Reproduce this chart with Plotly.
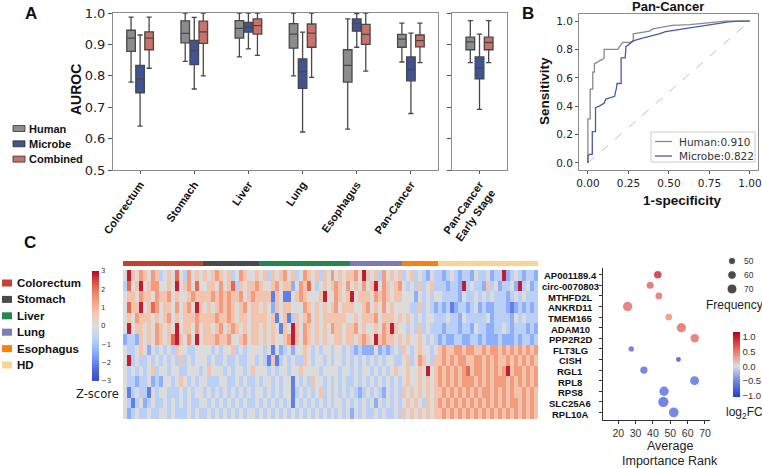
import plotly.graph_objects as go

W, H = 762, 468
def fx(p): return p / W
def fy(p): return 1 - p / H

FONT = "Liberation Sans, Arial, sans-serif"
MPL = "DejaVu Sans, sans-serif"

# ---------------- Panel A data ----------------
cancer_types = ["Colorectum", "Stomach", "Liver", "Lung", "Esophagus", "Pan-Cancer"]
early_label = ["Pan-Cancer<br>Early Stage"]
series_names = ["Human", "Microbe", "Combined"]
series_fill = ["#8c8c8c", "#3f5395", "#c9726c"]

human_low = [0.78, 0.846, 0.86, 0.80, 0.63, 0.844, 0.842]
human_q1 = [0.878, 0.905, 0.92, 0.888, 0.78, 0.891, 0.883]
human_med = [0.92, 0.935, 0.951, 0.933, 0.833, 0.917, 0.908]
human_q3 = [0.945, 0.975, 0.976, 0.966, 0.883, 0.932, 0.923]
human_high = [0.987, 1.0, 1.0, 1.0, 0.981, 0.968, 0.976]
microbe_low = [0.64, 0.758, 0.886, 0.621, 0.891, 0.68, 0.693]
microbe_q1 = [0.746, 0.836, 0.939, 0.76, 0.942, 0.784, 0.79]
microbe_med = [0.79, 0.88, 0.955, 0.813, 0.966, 0.82, 0.825]
microbe_q3 = [0.833, 0.913, 0.97, 0.854, 0.981, 0.86, 0.86]
microbe_high = [0.93, 0.986, 1.0, 0.939, 0.998, 0.936, 0.933]
combined_low = [0.824, 0.80, 0.865, 0.795, 0.815, 0.842, 0.842]
combined_q1 = [0.883, 0.903, 0.933, 0.891, 0.90, 0.892, 0.883]
combined_med = [0.92, 0.94, 0.96, 0.936, 0.932, 0.912, 0.906]
combined_q3 = [0.94, 0.974, 0.981, 0.965, 0.964, 0.93, 0.923]
combined_high = [0.987, 1.0, 1.0, 1.0, 1.0, 0.968, 0.976]

# ---------------- Panel B data ----------------
human_fpr = [0, 0, 0.014, 0.014, 0.03, 0.03, 0.04, 0.04, 0.06, 0.07, 0.09, 0.10, 0.10, 0.185, 0.195,
             0.215, 0.26, 0.28, 0.28, 0.32, 0.38, 0.40, 0.47, 0.52, 0.63, 0.73, 0.83, 0.85, 1.0]
human_tpr = [0, 0.31, 0.31, 0.52, 0.52, 0.64, 0.64, 0.70, 0.71, 0.72, 0.73, 0.74, 0.80, 0.80, 0.82,
             0.85, 0.85, 0.86, 0.91, 0.92, 0.93, 0.945, 0.96, 0.97, 0.975, 0.985, 0.995, 1.0, 1.0]
microbe_fpr = [0, 0, 0.01, 0.027, 0.027, 0.04, 0.047, 0.047, 0.07, 0.10, 0.11, 0.14, 0.165, 0.17, 0.175,
               0.18, 0.205, 0.205, 0.23, 0.235, 0.255, 0.28, 0.32, 0.38, 0.44, 0.48, 0.56, 0.65, 0.73,
               0.81, 0.87, 0.93, 1.0]
microbe_tpr = [0, 0.05, 0.06, 0.06, 0.22, 0.22, 0.22, 0.39, 0.40, 0.42, 0.45, 0.46, 0.47, 0.50, 0.52,
               0.56, 0.56, 0.74, 0.74, 0.82, 0.84, 0.86, 0.875, 0.89, 0.91, 0.925, 0.94, 0.955, 0.97,
               0.985, 0.995, 1.0, 1.0]
roc_labels = ["Human:0.910", "Microbe:0.822"]
roc_colors = ["#8a8a8a", "#4a5ba6"]

# ---------------- Panel C data ----------------
genes = ["AP001189.4", "circ-0070803", "MTHFD2L", "ANKRD11", "TMEM165", "ADAM10", "PPP2R2D",
         "FLT3LG", "CISH", "RGL1", "RPL8", "RPS8", "SLC25A6", "RPL10A"]
group_names = ["Colorectum", "Stomach", "Liver", "Lung", "Esophagus", "HD"]
group_colors = ["#c4432f", "#4a4a4a", "#24874f", "#7d7ab8", "#f98012", "#fad590"]

# z-score levels per sample, coded 0..8 (0 = -2.8 ... 4 = 0 ... 8 = +2.8), grouped by cohort
heat_rows = [
    ["48546 54653 45474 36454", "54565 45346 5445", "45354 56453 46545 35464 545", "56485 45364 545", "34534 3243", "32343 23324 33423 38234 32332"],
    ["37458 45664 45484 56474", "45546 45735 4556", "54456 45524 65743 45456 546", "45464 58465 456", "43435 3453", "33233 28343 32534 23342 83423"],
    ["45546 55465 56454 45655", "55656 56556 4565", "55515 41145 65444 58446 545", "84555 46565 455", "44424 3434", "43333 24334 34343 33234 34333"],
    ["47558 45764 55464 56485", "45456 56545 6455", "45425 45544 46545 45456 455", "54456 45464 544", "44335 3432", "32312 33234 23223 33212 32323"],
    ["45465 55454 56454 55565", "55565 56545 5455", "55451 45135 45645 45555 554", "45455 56455 545", "45434 3443", "33433 24333 33423 33324 34333"],
    ["48455 45465 45484 55464", "55456 45654 5455", "45454 15485 46545 45465 545", "56454 45465 854", "43435 3433", "32333 23324 33223 34323 33232"],
    ["23325 45465 45785 46484", "55565 56445 6455", "45454 45685 46545 45445 545", "54565 48565 545", "45445 4343", "23223 32233 23222 32223 23323"],
    ["43345 42434 34354 43344", "44343 44534 3444", "43414 23424 45434 34434 434", "32322 24232 343", "54345 4434", "56556 65665 56566 56565 65656"],
    ["48343 34343 43435 34344", "43433 43343 3443", "43151 34343 35434 43434 434", "34343 43434 433", "45346 5435", "56565 66556 65656 55656 56565"],
    ["43434 34534 43443 34443", "45444 34344 3454", "44343 44344 54444 34444 344", "34344 34343 454", "45445 4845", "65656 56756 65656 56856 65656"],
    ["43323 34232 44345 43434", "43334 43343 4334", "34434 34414 34354 43434 343", "34343 43434 343", "45445 4545", "65656 56665 65656 66565 65656"],
    ["41343 31434 43334 34344", "34343 43434 3434", "43434 34413 43434 53434 343", "43234 34324 343", "54545 4545", "56565 65656 56656 56565 56565"],
    ["43134 23433 43434 34334", "43434 34343 4334", "34343 43414 34343 43434 434", "34343 42434 343", "45454 3545", "65656 56565 65656 56566 56565"],
    ["42343 34334 43433 34343", "34343 43434 3443", "43434 34343 43434 34343 434", "24343 34343 343", "54545 4545", "56565 65656 56565 65656 56565"],
]
level_value = {"0": -2.8, "1": -2.1, "2": -1.4, "3": -0.7, "4": 0.0, "5": 0.7, "6": 1.4, "7": 2.1, "8": 2.8}

avg_rank = [42.8, 38.4, 43.4, 25.4, 49.1, 56.4, 64.1, 27.5, 54.7, 34.8, 64.0, 46.4, 46.0, 52.0]
frequency = [52, 48, 46, 65, 46, 65, 58, 36, 32, 50, 62, 65, 72, 68]
log2fc = [1.1, 0.75, 0.7, 0.7, 0.5, 0.7, 0.7, -0.9, -1.05, -0.9, -0.85, -0.85, -0.9, -0.85]
freq_legend = [50, 60, 70]

# ---------------- derived ----------------
group_counts = [len(g.replace(" ", "")) for g in heat_rows[0]]
z = []
for row in heat_rows:
    codes = "".join(g.replace(" ", "") for g in row)
    z.append([level_value[c] for c in codes])
ncol = len(z[0])
group_index = []
for gi, n in enumerate(group_counts):
    group_index += [gi] * n

def freq_size(f):
    return 7.3 + 0.135 * (f - 50)

fig = go.Figure()

# ---------------- Panel A traces ----------------
stats = {
    "Human": (human_low, human_q1, human_med, human_q3, human_high),
    "Microbe": (microbe_low, microbe_q1, microbe_med, microbe_q3, microbe_high),
    "Combined": (combined_low, combined_q1, combined_med, combined_q3, combined_high),
}
n_main = len(cancer_types)
for name, color in zip(series_names, series_fill):
    lo, q1, med, q3, hi = stats[name]
    common = dict(name=name, fillcolor=color, line=dict(color="#484848", width=1.3),
                  whiskerwidth=0.6, showlegend=False, offsetgroup=name, hoverinfo="skip",
                  boxpoints=False)
    fig.add_trace(go.Box(x=cancer_types, lowerfence=lo[:n_main], q1=q1[:n_main], median=med[:n_main],
                         q3=q3[:n_main], upperfence=hi[:n_main], xaxis="x", yaxis="y", **common))
    fig.add_trace(go.Box(x=early_label, lowerfence=lo[n_main:], q1=q1[n_main:], median=med[n_main:],
                         q3=q3[n_main:], upperfence=hi[n_main:], xaxis="x2", yaxis="y2", **common))

# ---------------- Panel B traces ----------------
fig.add_trace(go.Scatter(x=[0, 1], y=[0, 1], mode="lines", xaxis="x3", yaxis="y3", showlegend=False,
                         line=dict(color="#b0b0b0", width=0.8, dash="dash"), hoverinfo="skip"))
for fpr, tpr, col in [(human_fpr, human_tpr, roc_colors[0]), (microbe_fpr, microbe_tpr, roc_colors[1])]:
    fig.add_trace(go.Scatter(x=fpr, y=tpr, mode="lines", xaxis="x3", yaxis="y3", showlegend=False,
                             line=dict(color=col, width=1.3)))

# ---------------- Panel C traces ----------------
heat_scale = [[0.0, "#3b4cc0"], [0.1, "#4f69d9"], [0.2, "#7396f5"], [0.3, "#9abbff"], [0.4, "#c0d4f5"],
              [0.5, "#dddcdc"], [0.6, "#f2cbb7"], [0.7, "#f7a889"], [0.8, "#ee8468"], [0.9, "#d65244"],
              [1.0, "#b40426"]]
fig.add_trace(go.Heatmap(z=z, x=list(range(ncol)), y=list(range(len(genes))), xaxis="x4", yaxis="y4",
                         colorscale=heat_scale, zmin=-3, zmax=3, hoverinfo="skip",
                         colorbar=dict(x=fx(92), xanchor="left", xpad=0, y=fy(326), yanchor="middle", ypad=0,
                                       len=110, lenmode="pixels", thickness=7, outlinewidth=0,
                                       tickvals=[-3, -2, -1, 0, 1, 2, 3], ticks="",
                                       tickfont=dict(size=7, family=MPL, color="#333"))))
nG = len(group_colors)
bar_scale = [[i / (nG - 1), c] for i, c in enumerate(group_colors)]
fig.add_trace(go.Heatmap(z=[group_index], x=list(range(ncol)), y=[0], xaxis="x4", yaxis="y5",
                         colorscale=bar_scale, zmin=0, zmax=nG - 1, showscale=False, hoverinfo="skip"))

dot_scale = [[0.0, "#2238c8"], [0.0225, "#2a44d4"], [0.248, "#7088e8"], [0.473, "#dcdce6"],
             [0.698, "#ee7a62"], [0.923, "#cc1a2a"], [1.0, "#b0001a"]]
fig.add_trace(go.Scatter(x=avg_rank, y=list(range(len(genes))), mode="markers", xaxis="x6", yaxis="y6",
                         showlegend=False, hoverinfo="skip",
                         marker=dict(size=[freq_size(f) for f in frequency], color=log2fc,
                                     colorscale=dot_scale, cmin=-1.05, cmax=1.17, line=dict(width=0),
                                     colorbar=dict(x=fx(733), xanchor="left", xpad=0, y=fy(364.5),
                                                   yanchor="middle", ypad=0, len=65, lenmode="pixels",
                                                   thickness=7, outlinewidth=0, ticks="",
                                                   tickvals=[-1, -0.5, 0, 0.5, 1],
                                                   ticktext=["\u22121.0", "\u22120.5", "0.0", "0.5", "1.0"],
                                                   tickfont=dict(size=9.5, family=FONT, color="#333")))))
fig.add_trace(go.Scatter(x=[0.5] * len(freq_legend), y=list(range(len(freq_legend))), mode="markers",
                         xaxis="x7", yaxis="y7", showlegend=False, hoverinfo="skip",
                         marker=dict(size=[freq_size(f) for f in freq_legend], color="#000000")))

# ---------------- layout ----------------
frame = dict(showline=True, mirror=True, linecolor="#8c8c8c", linewidth=1, showgrid=False, zeroline=False)
ytick_common = dict(ticks="outside", ticklen=4, tickcolor="#555")
fig.update_layout(
    width=W, height=H, autosize=False, margin=dict(l=0, r=0, t=0, b=0, pad=0, autoexpand=False),
    paper_bgcolor="white", plot_bgcolor="white",
    boxmode="group", boxgap=0.5, boxgroupgap=0.05,
    xaxis=dict(domain=[fx(113), fx(438)], anchor="y", **frame, ticks="outside", ticklen=3, tickcolor="#555",
               tickangle=-55, automargin=False,
               tickfont=dict(family=FONT, size=11, color="#111", weight="bold")),
    yaxis=dict(domain=[fy(170), fy(13)], anchor="x", range=[0.5, 1.0], dtick=0.1, tickformat=".1f",
               automargin=False, **frame, **ytick_common, tickfont=dict(family=MPL, size=13, color="#222")),
    xaxis2=dict(domain=[fx(452), fx(507)], anchor="y2", **frame, ticks="outside", ticklen=3, tickcolor="#555",
                tickangle=-55, automargin=False,
                tickfont=dict(family=FONT, size=11, color="#111", weight="bold")),
    yaxis2=dict(domain=[fy(170), fy(13)], anchor="x2", range=[0.5, 1.0], dtick=0.1, showticklabels=False,
                automargin=False, **frame, **ytick_common),
    xaxis3=dict(domain=[fx(579), fx(758)], anchor="y3", range=[-0.055, 1.05], tickvals=[0, 0.25, 0.5, 0.75, 1.0],
                tickformat=".2f", automargin=False, **frame, ticks="outside", ticklen=3, tickcolor="#555",
                tickfont=dict(family=MPL, size=10.5, color="#222")),
    yaxis3=dict(domain=[fy(170), fy(14)], anchor="x3", range=[-0.05, 1.05], dtick=0.2, tickformat=".1f",
                automargin=False, **frame, ticks="outside", ticklen=3, tickcolor="#555",
                tickfont=dict(family=MPL, size=10.5, color="#222")),
    xaxis4=dict(domain=[fx(123), fx(538)], anchor="y4", range=[-0.5, ncol - 0.5], visible=False),
    yaxis4=dict(domain=[fy(419), fy(270)], anchor="x4", range=[len(genes) - 0.5, -0.5], visible=False),
    yaxis5=dict(domain=[fy(266), fy(261)], anchor="x4", range=[-0.5, 0.5], visible=False),
    xaxis6=dict(domain=[fx(603), fx(710)], anchor="y6", range=[11.2, 72.9], tickvals=[20, 30, 40, 50, 60, 70],
                showline=True, linecolor="#333", linewidth=1, showgrid=False, zeroline=False, automargin=False,
                ticks="outside", ticklen=3, tickcolor="#333", tickfont=dict(family=FONT, size=10.5, color="#333")),
    yaxis6=dict(domain=[fy(420), fy(268)], anchor="x6", range=[13.71, -0.63], tickvals=list(range(len(genes))),
                showticklabels=False, showline=True, linecolor="#333", linewidth=1, showgrid=False,
                zeroline=False, ticks="outside", ticklen=3, tickcolor="#333", automargin=False),
    xaxis7=dict(domain=[fx(726), fx(738)], anchor="y7", range=[0, 1], visible=False),
    yaxis7=dict(domain=[fy(295), fy(255)], anchor="x7", range=[2.43, -0.43], visible=False),
)

annotations = []
shapes = []
def ann(text, x, y, size, family=FONT, color="#111", xanchor="center", yanchor="middle", angle=0, bold=False):
    annotations.append(dict(text=text, x=fx(x), y=fy(y), xref="paper", yref="paper", showarrow=False,
                            xanchor=xanchor, yanchor=yanchor, textangle=angle,
                            font=dict(family=family, size=size, color=color,
                                      weight="bold" if bold else "normal")))

# panel letters
ann("A", 31, 13, 17, bold=True)
ann("B", 528, 13, 17, bold=True)
ann("C", 30, 242, 17, bold=True)

# panel A labels and legend
ann("AUROC", 76, 90, 14, bold=True, angle=-90)
for i, (name, col) in enumerate(zip(series_names, series_fill)):
    yc = 128.5 + i * 15.3
    shapes.append(dict(type="rect", xref="paper", yref="paper", x0=fx(13), x1=fx(25), y0=fy(yc + 3), y1=fy(yc - 3),
                       fillcolor=col, line=dict(color="#333", width=0.8)))
    ann(name, 27, yc, 11, bold=True, xanchor="left")

# panel B labels and legend
ann("Pan-Cancer", 668, 7, 13, bold=True)
ann("Sensitivity", 545, 91, 13.5, bold=True, angle=-90)
ann("1-specificity", 682, 200, 13.5, bold=True)
shapes.append(dict(type="rect", xref="paper", yref="paper", x0=fx(651), x1=fx(755), y0=fy(162), y1=fy(132),
                   fillcolor="white", line=dict(color="#cccccc", width=1)))
for i, (lab, col) in enumerate(zip(roc_labels, roc_colors)):
    yc = 141.5 + i * 14.5
    shapes.append(dict(type="line", xref="paper", yref="paper", x0=fx(655), x1=fx(672), y0=fy(yc), y1=fy(yc),
                       line=dict(color=col, width=1.3)))
    ann(lab, 677, yc, 10.5, family=MPL, color="#333", xanchor="left")

# panel C group legend
for i, (name, col) in enumerate(zip(group_names, group_colors)):
    yc = 283 + i * 16.4
    shapes.append(dict(type="rect", xref="paper", yref="paper", x0=fx(2), x1=fx(12), y0=fy(yc + 3.5),
                       y1=fy(yc - 3.5), fillcolor=col, line=dict(width=0)))
    ann(name, 15, yc, 11.5, bold=True, xanchor="left")
ann("Z-score", 97, 394, 11.5, family=MPL, color="#222")

# heatmap row labels
row_h = (419 - 270) / len(genes)
for i, g in enumerate(genes):
    ann(g, 570, 270 + (i + 0.5) * row_h + 0.5, 9.5, bold=True)

# dot plot labels
ann("Average", 670, 446, 12.5, color="#222")
ann("Importance Rank", 670, 461, 12.5, color="#222")
for i, f in enumerate(freq_legend):
    ann(str(f), 742, 261 + i * 14, 8.5, color="#333", xanchor="left")
ann("Frequency", 734, 305, 12, color="#222")
ann("log<sub>2</sub>FC", 744, 413, 12, color="#222")

fig.update_layout(annotations=annotations, shapes=shapes)
fig.write_html("out.html", config={"displayModeBar": False, "staticPlot": True},
               post_script="document.body.style.margin='0';document.body.style.overflow='hidden';")
